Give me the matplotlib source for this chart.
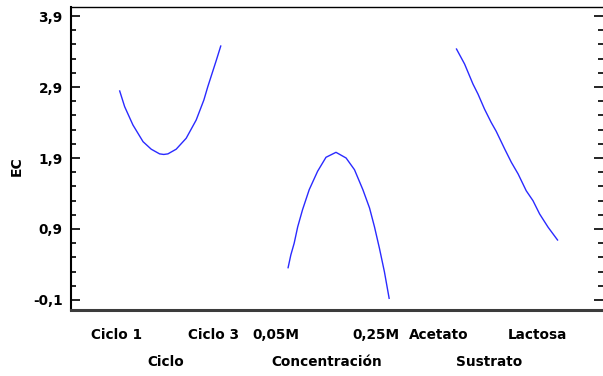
import numpy as np
import matplotlib
matplotlib.use("Agg")
import matplotlib.pyplot as plt
from matplotlib.ticker import FixedLocator

# Main effects for EC.
# x is the fraction of the way from the low level to the high level.
ciclo_x = [0, 0.049, 0.131, 0.231, 0.312, 0.395, 0.436, 0.477, 0.559, 0.658, 0.757, 0.833, 0.872, 0.957, 1.0]
ciclo_y = [2.844, 2.623, 2.365, 2.13, 2.024, 1.958, 1.95, 1.958, 2.024, 2.178, 2.435, 2.717, 2.905, 3.28, 3.477]

conc_x = [0, 0.027, 0.06, 0.095, 0.143, 0.209, 0.292, 0.375, 0.474, 0.574, 0.657, 0.74, 0.806, 0.855, 0.904, 0.953, 1.0]
conc_y = [0.355, 0.534, 0.699, 0.93, 1.172, 1.454, 1.713, 1.91, 1.98, 1.9, 1.735, 1.454, 1.196, 0.93, 0.628, 0.299, -0.076]

sustrato_x = [0, 0.08, 0.163, 0.213, 0.277, 0.343, 0.393, 0.477, 0.543, 0.61, 0.69, 0.757, 0.823, 0.907, 1.0]
sustrato_y = [3.435, 3.224, 2.942, 2.8, 2.59, 2.402, 2.276, 2.027, 1.839, 1.675, 1.439, 1.299, 1.111, 0.924, 0.745]

factors = ["Ciclo", "Concentración", "Sustrato"]
level_labels = ["Ciclo 1", "Ciclo 3", "0,05M", "0,25M", "Acetato", "Lactosa"]
y_ticks = [-0.1, 0.9, 1.9, 2.9, 3.9]

curves = [(ciclo_x, ciclo_y), (conc_x, conc_y), (sustrato_x, sustrato_y)]

plt.rcParams["font.family"] = "DejaVu Sans"
plt.rcParams["font.weight"] = "bold"

fig = plt.figure(figsize=(6.03, 3.76), dpi=100)
ax = fig.add_axes([71 / 603, 66.5 / 376, 1 - 71 / 603, 302.5 / 376])

# each factor spans 3 units, 2 units gap between factors
for i, (xs, ys) in enumerate(curves):
    start = 5 * i
    ax.plot(start + 3 * np.array(xs), ys, color="#2a2aff", lw=1.0)

ax.set_xlim(-1.446, 14.35)
ax.set_ylim(-0.234, 4.027)

# level labels sit slightly left of the curve ends, as in the original
ax.set_xticks([-0.09, 2.79, 4.64, 7.61, 9.48, 12.41])
ax.set_xticklabels(level_labels, fontsize=9.8, fontweight="bold")
ax.tick_params(axis="x", length=0, pad=13)

for x, name in zip([1.37, 6.14, 10.96], factors):
    ax.text(x, -0.1726, name, transform=ax.get_xaxis_transform(),
            ha="center", va="center", fontsize=9.8, fontweight="bold")

ax.yaxis.set_major_locator(FixedLocator(y_ticks))
ax.yaxis.set_minor_locator(FixedLocator(np.arange(-0.1, 4.0, 0.2)))
ax.set_yticklabels([f"{v:.1f}".replace(".", ",") for v in y_ticks],
                   fontsize=9.8, fontweight="bold")
ax.tick_params(axis="y", which="both", direction="in", right=True, width=1.2, pad=6)
ax.tick_params(axis="y", which="major", length=6.5)
ax.tick_params(axis="y", which="minor", length=3.6)

ax.set_ylabel("EC", fontsize=10, fontweight="bold")
ax.yaxis.set_label_coords(-(71 - 24) / (603 - 71), (309.5 - 166) / 302.5)

ax.spines["right"].set_visible(False)
ax.spines["top"].set_linewidth(1.0)
ax.spines["left"].set_linewidth(1.5)
ax.spines["bottom"].set_linewidth(2.2)
ax.spines["bottom"].set_color("#3c3c3c")

fig.savefig("out.png", dpi=100)
